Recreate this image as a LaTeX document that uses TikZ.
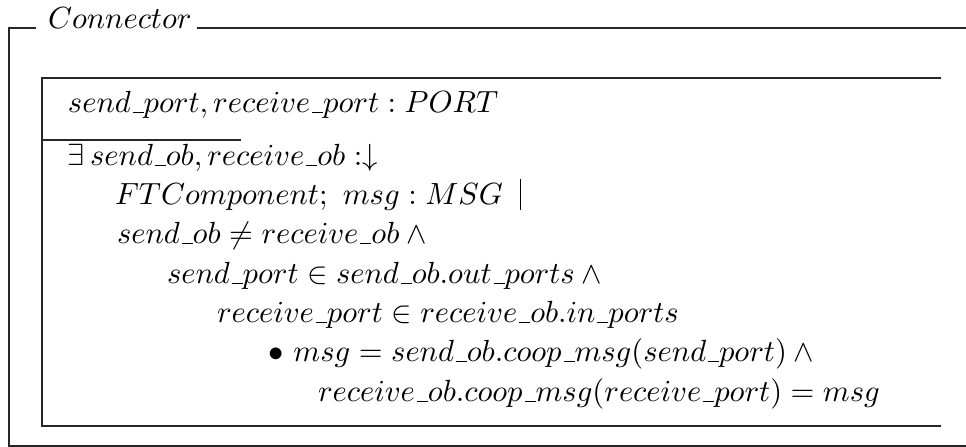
\documentclass[tikz,border=0pt]{standalone}
\newcommand{\us}{\mbox{\kern.06em\vbox{\hrule width.36em}}}
\newcommand{\zbar}{\mathrel{\rule[-1.5pt]{0.45pt}{10pt}}}
\begin{document}
\begin{tikzpicture}[x=0.3268pt,y=-0.3268pt,
  rule/.style={line width=0.4pt,draw=black!85},
  ztext/.style={anchor=base west,inner sep=0pt,outer sep=0pt}]
\useasboundingbox (0,0) rectangle (966,447);
% outer schema frame
\coordinate (otl) at (9,28);
\coordinate (otl2) at (36,28);
\coordinate (otr1) at (197,28);
\coordinate (otr) at (966,28);
\coordinate (obl) at (9,446);
\coordinate (obr) at (966,446);
\node[ztext] (title) at (48,29) {$Connector$};
\draw[rule] (otl2) -- (otl) -- (obl) -- (obr);
\draw[rule] (otr1) -- (otr);
% inner schema frame
\coordinate (itl) at (42,78);
\coordinate (itr) at (941,78);
\coordinate (ibl) at (42,426);
\coordinate (ibr) at (941,426);
\coordinate (sepl) at (42,140);
\coordinate (sepr) at (241,140);
\draw[rule] (itr) -- (itl) -- (ibl) -- (ibr);
\draw[rule] (sepl) -- (sepr);
% declarations
\node[ztext] (decl) at (68,113) {$send\us port, receive\us port : PORT$};
% predicate
\node[ztext] (p1) at (68,166) {$\exists\, send\us ob, receive\us ob :\downarrow$};
\node[ztext] (p2) at (115,205) {$FTComponent;~ msg : MSG\;\zbar$};
\node[ztext] (p3) at (117,244) {$send\us ob \neq receive\us ob \land{}$};
\node[ztext] (p4) at (167,284) {$send\us port \in send\us ob.out\us ports \land{}$};
\node[ztext] (p5) at (217,323) {$receive\us port \in receive\us ob.in\us ports$};
\node[ztext] (p6) at (268,362) {$\bullet\ msg = send\us ob.coop\us msg(send\us port) \land{}$};
\node[ztext] (p7) at (318,402) {$receive\us ob.coop\us msg(receive\us port) = msg$};
\end{tikzpicture}
\end{document}
